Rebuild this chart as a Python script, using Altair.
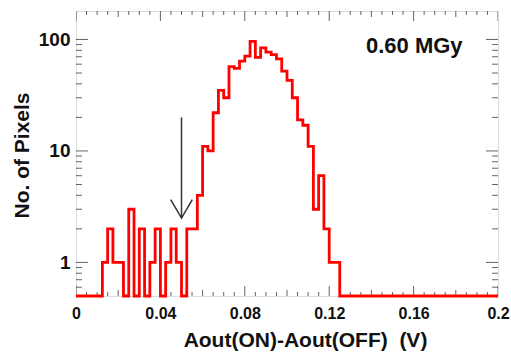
import altair as alt
import pandas as pd

# ---- data ----
bin_width = 0.0025
counts = [
    0, 0, 0, 0, 0, 1, 2, 1, 1, 0,
    3, 0, 2, 0, 1, 2, 0, 1, 2, 1,
    0, 2, 2, 4, 11, 10, 22, 35, 30, 57,
    55, 64, 71, 96, 69, 84, 77, 73, 67, 52,
    43, 30, 19, 17, 11, 3, 6, 2, 1, 1,
    0, 0, 0, 0, 0, 0, 0, 0, 0, 0,
    0, 0, 0, 0, 0, 0, 0, 0, 0, 0,
    0, 0, 0, 0, 0, 0, 0, 0, 0, 0,
]
x_major = [0, 0.04, 0.08, 0.12, 0.16, 0.2]
y_major = [1, 10, 100]
y_minor = [0.6, 0.7, 0.8, 0.9, 2, 3, 4, 5, 6, 7, 8, 9,
           20, 30, 40, 50, 60, 70, 80, 90]
x_minor_step = 0.005
arrow_x = [0.05]
arrow_top = [20]
arrow_tip = [2.5]
label_text = "0.60 MGy"
x_title = "Aout(ON)-Aout(OFF)\u00a0\u00a0(V)"
y_title = "No. of Pixels"

X_DOMAIN = [0, 0.2]
Y_DOMAIN = [0.5, 180]
W, H = 422, 285
FONT = "Liberation Sans"
RED = "#ff0000"
INK = "#222222"

# ---- tables ----
rows = []
for i, c in enumerate(counts):
    rows.append({"x": round(i * bin_width, 6), "y": max(c, Y_DOMAIN[0])})
rows.append({"x": X_DOMAIN[1], "y": max(counts[-1], Y_DOMAIN[0])})
hist = pd.DataFrame(rows)

xt = []
n_minor = int(round(X_DOMAIN[1] / x_minor_step))
for k in range(n_minor + 1):
    v = round(k * x_minor_step, 6)
    if k % 8 == 0:
        ln = 20
    elif k % 4 == 0:
        ln = 12
    else:
        ln = 8
    xt.append({"x": v, "len": ln})
xticks = pd.DataFrame(xt)

yt = [{"y": v, "len": 24} for v in y_major] + [{"y": v, "len": 12} for v in y_minor]
yticks = pd.DataFrame(yt)

arrow = pd.DataFrame({"x": arrow_x, "top": arrow_top, "tip": arrow_tip})

xs = alt.Scale(domain=X_DOMAIN, nice=False, zero=False)
ys = alt.Scale(type="log", domain=Y_DOMAIN, nice=False)

x_axis = alt.Axis(
    values=x_major, format="~g", title=x_title,
    ticks=False, tickSize=0, domain=False, grid=False,
    labelFont=FONT, labelFontSize=16, labelFontWeight="bold", labelColor="#111",
    labelPadding=9, labelFlush=False, labelOverlap=False, labelBound=False,
    titleFont=FONT, titleFontSize=21, titleFontWeight="bold", titleColor="#111",
    titleX=229, titleY=50, titleBaseline="alphabetic")
y_axis = alt.Axis(
    values=y_major, format="~g", title=y_title,
    ticks=False, tickSize=0, domain=False, grid=False,
    labelFont=FONT, labelFontSize=19, labelFontWeight="bold", labelColor="#111",
    labelPadding=6, labelOverlap=False,
    titleFont=FONT, titleFontSize=21, titleFontWeight="bold", titleColor="#111",
    titleX=-54, titleY=144, titleBaseline="middle")

# invisible layer carrying the axes
axes_layer = alt.Chart(hist).mark_line(strokeOpacity=0).encode(
    x=alt.X("x:Q", scale=xs, axis=x_axis),
    y=alt.Y("y:Q", scale=ys, axis=y_axis),
)

line = alt.Chart(hist).mark_line(
    interpolate="step-after", color=RED, strokeWidth=2.8
).encode(
    x=alt.X("x:Q", scale=xs, axis=x_axis),
    y=alt.Y("y:Q", scale=ys, axis=y_axis),
)

def xtick_layer(ypix):
    return alt.Chart(xticks).mark_tick(clip=True, color=INK, thickness=1).encode(
        x=alt.X("x:Q", scale=xs, axis=x_axis),
        y=alt.value(ypix),
        size=alt.Size("len:Q", scale=None, legend=None),
    )

def ytick_layer(xpix):
    return alt.Chart(yticks).mark_tick(clip=True, color=INK, thickness=1, orient="horizontal").encode(
        y=alt.Y("y:Q", scale=ys, axis=y_axis),
        x=alt.value(xpix),
        size=alt.Size("len:Q", scale=None, legend=None),
    )

arrow_rule = alt.Chart(arrow).mark_rule(color="#333333", strokeWidth=1.5).encode(
    x=alt.X("x:Q", scale=xs, axis=x_axis),
    y=alt.Y("top:Q", scale=ys, axis=y_axis),
    y2="tip:Q",
)
arrow_head = alt.Chart(arrow).mark_point(
    shape="M-1,-1.7L0,0L1,-1.7", filled=False, size=467,
    color="#333333", strokeWidth=1.5, opacity=1
).encode(
    x=alt.X("x:Q", scale=xs, axis=x_axis),
    y=alt.Y("tip:Q", scale=ys, axis=y_axis),
)

label = alt.Chart(pd.DataFrame({"t": [label_text]})).mark_text(
    font=FONT, fontSize=22, fontWeight="bold", color="#111",
    align="left", baseline="alphabetic"
).encode(x=alt.value(290), y=alt.value(42), text="t:N")

chart = alt.layer(
    axes_layer, xtick_layer(H), xtick_layer(0), ytick_layer(0), ytick_layer(W),
    arrow_rule, arrow_head, line, label
).properties(
    width=W, height=H,
    autosize=alt.AutoSizeParams(type="none"),
    padding={"left": 76, "top": 11, "right": 13, "bottom": 56},
).configure_view(
    stroke=INK, strokeWidth=1.3
).configure(
    font=FONT, background="white"
)

chart.save("out.html", embed_options={"renderer": "svg", "actions": False})
